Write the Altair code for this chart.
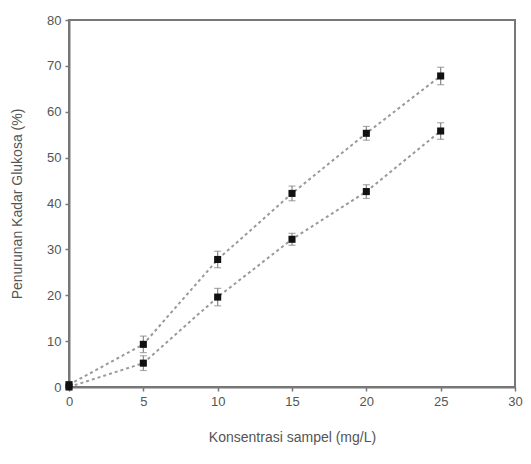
import altair as alt
import pandas as pd

conc = [0, 5, 10, 15, 20, 25]
upper = [0.5, 9.3, 27.8, 42.2, 55.3, 67.8]
upper_err = [0.6, 1.8, 1.8, 1.6, 1.5, 1.9]
lower = [0.0, 5.2, 19.6, 32.2, 42.6, 55.8]
lower_err = [0.5, 1.6, 1.9, 1.3, 1.5, 1.8]

rows = []
for name, vals, errs in [("A", upper, upper_err), ("B", lower, lower_err)]:
    for c, v, e in zip(conc, vals, errs):
        rows.append({"series": name, "x": c, "y": v, "lo": v - e, "hi": v + e})
df = pd.DataFrame(rows)

grey = "#777777"
xs = alt.Scale(domain=[0, 30], nice=False)
ys = alt.Scale(domain=[0, 80], nice=False)

base = alt.Chart(df)
x_enc = alt.X("x:Q", scale=xs, title="Konsentrasi sampel (mg/L)",
              axis=alt.Axis(values=[0, 5, 10, 15, 20, 25, 30], grid=False, labelFlush=False))
y_enc = alt.Y("y:Q", scale=ys, title="Penurunan Kadar Glukosa (%)",
              axis=alt.Axis(values=[0, 10, 20, 30, 40, 50, 60, 70, 80], grid=False, labelFlush=False))

lines = base.mark_line(color="#999999", strokeDash=[3, 3], strokeWidth=2).encode(
    x=x_enc, y=y_enc, detail="series:N")
errs = base.mark_errorbar(color="#888888", ticks=alt.MarkConfig(size=7), thickness=1.2).encode(
    x="x:Q", y=alt.Y("lo:Q", scale=ys, title="Penurunan Kadar Glukosa (%)"), y2="hi:Q")
pts = base.mark_point(shape="square", filled=True, color="#111111", size=50, opacity=1).encode(
    x="x:Q", y="y:Q")

chart = alt.layer(lines, errs, pts).properties(
    width=446, height=367,
    autosize="none",
    padding={"left": 61, "top": 12, "right": 8, "bottom": 60},
).configure_view(stroke=grey, strokeWidth=2).configure_axis(
    domainColor=grey, domainWidth=2, tickColor=grey, tickSize=4, tickWidth=1.5,
    labelColor="#555555", labelFont="Liberation Sans", labelFontSize=13,
    titleColor="#555555", titleFont="Liberation Sans", titleFontSize=14, titleFontWeight="normal",
    labelPadding=4,
).configure_axisX(titlePadding=22).configure_axisY(titlePadding=22)

chart.save("out.html", embed_options={"renderer": "svg", "actions": False})
